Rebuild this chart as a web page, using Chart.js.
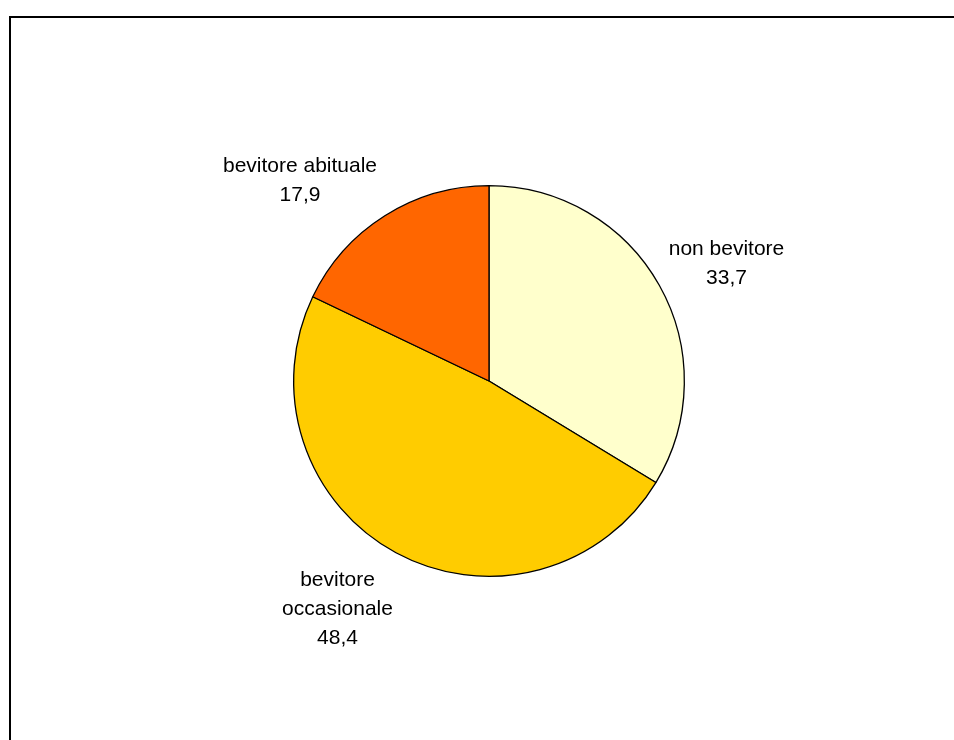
<!DOCTYPE html>
<html>
<head>
<meta charset="utf-8">
<script src="https://cdn.jsdelivr.net/npm/chart.js@4"></script>
<style>
html,body{margin:0;padding:0;background:#fff;}
canvas{display:block;}
</style>
</head>
<body>
<canvas id="c" width="954" height="740"></canvas>
<script>
const categories = ['non bevitore', 'bevitore occasionale', 'bevitore abituale'];
const values = [33.7, 48.4, 17.9];
const colors = ['#FFFFCC', '#FFCC00', '#FF6600'];

// label layout: lines and first-baseline offset from pie centre
const labelLayout = [
  {lines: ['non bevitore'], dx: 237.5, dy: -126},
  {lines: ['bevitore', 'occasionale'], dx: -151.5, dy: 205},
  {lines: ['bevitore abituale'], dx: -189, dy: -209}
];

const labelPlugin = {
  id: 'labels',
  afterDraw(chart) {
    const ctx = chart.ctx;
    ctx.save();
    // frame
    ctx.fillStyle = '#000';
    ctx.fillRect(9, 16, 945, 2);
    ctx.fillRect(9, 16, 2, 724);
    const meta = chart.getDatasetMeta(0);
    ctx.font = '21px "Liberation Sans", Arial, sans-serif';
    ctx.textAlign = 'center';
    ctx.textBaseline = 'alphabetic';
    ctx.fillStyle = '#000';
    meta.data.forEach((arc, i) => {
      const L = labelLayout[i];
      const lines = L.lines.concat([values[i].toFixed(1).replace('.', ',')]);
      const x = arc.x + L.dx;
      let y = arc.y + L.dy;
      lines.forEach(t => { ctx.fillText(t, x, y); y += 29; });
    });
    ctx.restore();
  }
};

new Chart(document.getElementById('c'), {
  type: 'pie',
  data: {
    labels: categories,
    datasets: [{
      data: values,
      backgroundColor: colors,
      borderColor: '#000',
      borderWidth: 1.3,
      borderAlign: 'center'
    }]
  },
  options: {
    responsive: false,
    animation: false,
    devicePixelRatio: 1,
    layout: {padding: {left: 293, right: 269, top: 185, bottom: 163}},
    plugins: {legend: {display: false}, tooltip: {enabled: false}}
  },
  plugins: [labelPlugin]
});
</script>
</body>
</html>
